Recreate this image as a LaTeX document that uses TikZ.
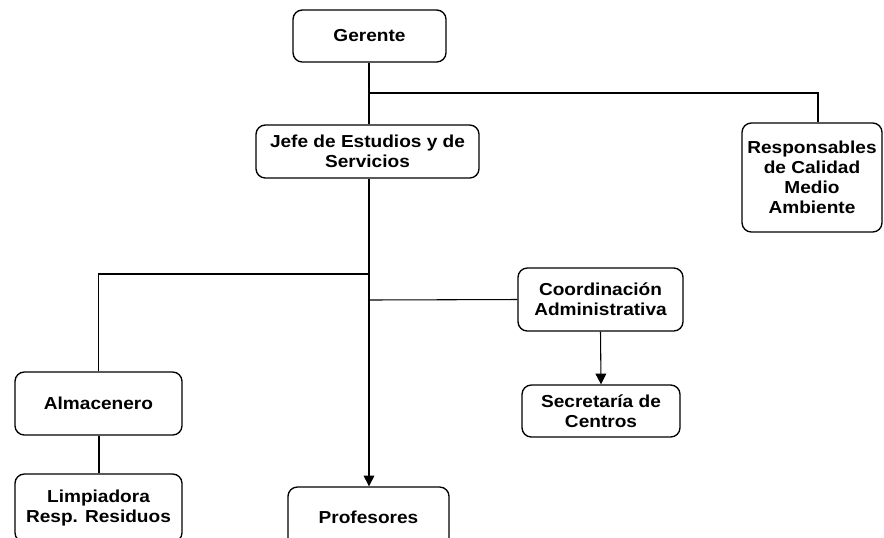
\documentclass[tikz,border=0pt]{standalone}
\usepackage{fontspec}
\setmainfont{Liberation Sans}[FakeStretch=1.1]
\usepackage{xcolor}
\usetikzlibrary{arrows.meta}

\tikzset{
  unitbox/.style={draw, line width=1pt, rounded corners=7pt, inner sep=0pt, align=center,
    font=\fontsize{13}{15}\selectfont\bfseries},
  thinline/.style={line width=0.8pt},
  thickline/.style={line width=1.5pt},
  tip/.style={-{Triangle[length=8pt,width=8pt]}}
}

\begin{document}
\begin{tikzpicture}[x=0.75pt,y=0.75pt,yscale=-1,xscale=1]
\useasboundingbox (0,0) rectangle (884,537);

%Shape: Rounded Rectangle
\node [unitbox, minimum width=114.75pt, minimum height=39pt] (gerente) at (369.5,36) {Gerente};
%Shape: Rounded Rectangle
\node [unitbox, minimum width=167.25pt, minimum height=39.75pt] (jefe) at (367.5,151.5) {Jefe de Estudios y de\\Servicios};
%Shape: Rounded Rectangle
\node [unitbox, minimum width=105pt, minimum height=81.75pt] (resp) at (812,177.5) {Responsables\\de Calidad\\Medio\\Ambiente};
%Shape: Rounded Rectangle
\node [unitbox, minimum width=123.75pt, minimum height=47.25pt] (coord) at (600.5,299.5) {Coordinación\\Administrativa};
%Shape: Rounded Rectangle
\node [unitbox, minimum width=118.5pt, minimum height=39pt] (secre) at (601,411) {Secretaría de\\Centros};
%Shape: Rounded Rectangle
\node [unitbox, minimum width=125.25pt, minimum height=47.25pt] (almac) at (98.5,403.5) {Almacenero};
%Shape: Rounded Rectangle
\node [unitbox, minimum width=125.25pt, minimum height=51pt] (limp) at (98.5,508) {Limpiadora\\Resp. Residuos};
%Shape: Rounded Rectangle
\node [unitbox, minimum width=120.75pt, minimum height=45pt] (prof) at (368.5,517) {Profesores};

% Junctions
\coordinate (jg) at (369,93);
\coordinate (jl) at (369,274);
\coordinate (jr) at (369,300);

%Straight Lines
\draw [thickline] (gerente.south -| jg) -- (jefe.north -| jg);
\draw [thinline] (jg) -| ([xshift=4.5pt]resp.north);
\draw [thickline] (jefe.south -| jl) -- (jl);
\draw [thinline, tip] (jl) -- (prof.north -| jl);
\draw [thinline] (jl) -| (almac.north);
\draw [thinline] (jr) -- (coord.west);
\draw [thickline] (almac.south) -- (limp.north);
\draw [thinline, tip] (coord.south) -- (secre.north);

\end{tikzpicture}
\end{document}
